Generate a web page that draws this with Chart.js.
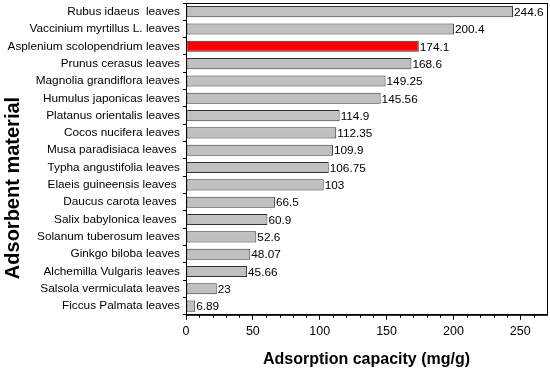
<!DOCTYPE html>
<html>
<head>
<meta charset="utf-8">
<script src="https://cdn.jsdelivr.net/npm/chart.js@4"></script>
<style>
  html, body { margin: 0; padding: 0; background: #fff; }
  #wrap { width: 550px; height: 369px; }
</style>
</head>
<body>
<div id="wrap"><canvas id="chart"></canvas></div>
<script>
const materials = [
  "Rubus idaeus  leaves",
  "Vaccinium myrtillus L. leaves",
  "Asplenium scolopendrium leaves",
  "Prunus cerasus leaves",
  "Magnolia grandiflora leaves",
  "Humulus japonicas leaves",
  "Platanus orientalis leaves",
  "Cocos nucifera leaves",
  "Musa paradisiaca leaves ",
  "Typha angustifolia leaves",
  "Elaeis guineensis leaves ",
  "Daucus carota leaves ",
  "Salix babylonica leaves ",
  "Solanum tuberosum leaves",
  "Ginkgo biloba leaves",
  "Alchemilla Vulgaris leaves",
  "Salsola vermiculata leaves",
  "Ficcus Palmata leaves"
];
const capacity = [244.6, 200.4, 174.1, 168.6, 149.25, 145.56, 114.9, 112.35, 109.9, 106.75, 103, 66.5, 60.9, 52.6, 48.07, 45.66, 23, 6.89];
const capacityLabels = ["244.6", "200.4", "174.1", "168.6", "149.25", "145.56", "114.9", "112.35", "109.9", "106.75", "103", "66.5", "60.9", "52.6", "48.07", "45.66", "23", "6.89"];
const xTicks = [0, 50, 100, 150, 200, 250];
const highlighted = "Asplenium scolopendrium leaves";

const font = "'Liberation Sans', Arial, sans-serif";

// frame, minor ticks, value labels and the y title
const extras = {
  id: "extras",
  afterDatasetsDraw(chart) {
    const { ctx, chartArea: a, scales } = chart;
    ctx.save();
    ctx.strokeStyle = "#000";
    ctx.lineWidth = 1;
    ctx.strokeRect(a.left + 0.5, a.top + 0.5, a.right - a.left, a.bottom - a.top);

    const x = scales.x;
    ctx.beginPath();
    for (let v = 10; v < 270; v += 10) {
      if (v % 50 === 0) continue;
      const px = Math.round(x.getPixelForValue(v)) + 0.5;
      ctx.moveTo(px, a.bottom);
      ctx.lineTo(px, a.bottom + 3);
    }
    ctx.stroke();

    const meta = chart.getDatasetMeta(0);
    ctx.fillStyle = "#000";
    ctx.font = "11.8px " + font;
    ctx.textAlign = "left";
    ctx.textBaseline = "middle";
    meta.data.forEach((bar, i) => {
      ctx.fillText(capacityLabels[i], bar.x + 1, bar.y + 1);
    });

    ctx.translate(13, 188);
    ctx.rotate(-Math.PI / 2);
    ctx.textAlign = "center";
    ctx.font = "bold 20px " + font;
    ctx.fillText("Adsorbent material", 0, 0);
    ctx.restore();
  }
};

new Chart(document.getElementById("chart"), {
  type: "bar",
  data: {
    labels: materials,
    datasets: [{
      data: capacity,
      backgroundColor: materials.map(m => m.trim() === highlighted ? "#ff0000" : "#c0c0c0"),
      borderColor: "#333",
      borderWidth: 1,
      borderSkipped: false,
      categoryPercentage: 1,
      barPercentage: 0.64
    }]
  },
  options: {
    indexAxis: "y",
    responsive: true,
    maintainAspectRatio: false,
    animation: false,
    layout: { padding: { top: 3, right: 3, left: 0, bottom: 0 } },
    plugins: { legend: { display: false }, tooltip: { enabled: false } },
    scales: {
      x: {
        min: 0,
        max: 270,
        afterBuildTicks: axis => { axis.ticks = xTicks.map(v => ({ value: v })); },
        ticks: {
          color: "#000",
          font: { family: font, size: 12.5 },
          padding: 4,
          maxRotation: 0
        },
        grid: { drawOnChartArea: false, color: "#000", tickLength: 5 },
        border: { color: "#000" },
        title: {
          display: true,
          text: "Adsorption capacity (mg/g)",
          color: "#000",
          font: { family: font, size: 16, weight: "bold" },
          padding: { top: 7, bottom: 0 }
        }
      },
      y: {
        afterFit: axis => {
          axis.width = 186;
          axis.paddingTop = 0;
          axis.paddingBottom = 0;
        },
        ticks: {
          color: "#000",
          font: { family: font, size: 11.8 },
          padding: 3,
          autoSkip: false
        },
        grid: { offset: true, drawOnChartArea: false, color: "#000", tickLength: 3 },
        border: { color: "#000" }
      }
    }
  },
  plugins: [extras]
});
</script>
</body>
</html>
